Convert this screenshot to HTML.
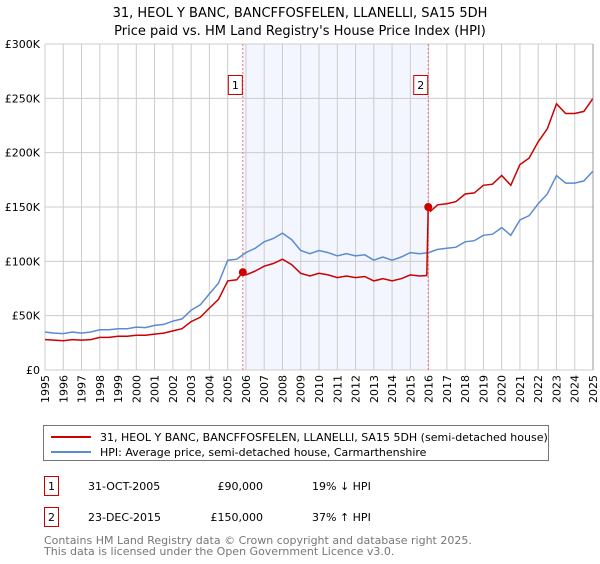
<!DOCTYPE html>
<html><head><meta charset="utf-8"><style>
body{margin:0;background:#fff;font-family:"DejaVu Sans","Liberation Sans",sans-serif;}
svg text{font-family:"DejaVu Sans","Liberation Sans",sans-serif;}
</style></head><body>
<svg id="c" width="600" height="560" xmlns="http://www.w3.org/2000/svg">
<text x="300" y="17" text-anchor="middle" font-size="13">31, HEOL Y BANC, BANCFFOSFELEN, LLANELLI, SA15 5DH</text>
<text x="300" y="35" text-anchor="middle" font-size="13">Price paid vs. HM Land Registry's House Price Index (HPI)</text>
<g id="plot"></g>
<g>
<rect x="43.5" y="425.5" width="505" height="35" fill="#fff" stroke="#777"/>
<line x1="51" y1="437" x2="91" y2="437" stroke="#cc0000" stroke-width="2"/>
<text x="100" y="441" font-size="11">31, HEOL Y BANC, BANCFFOSFELEN, LLANELLI, SA15 5DH (semi-detached house)</text>
<line x1="51" y1="452" x2="91" y2="452" stroke="#5b8bd0" stroke-width="2"/>
<text x="100" y="456" font-size="11">HPI: Average price, semi-detached house, Carmarthenshire</text>
</g>
<g font-size="11">
<rect x="44.5" y="476.5" width="14" height="19" fill="none" stroke="#cc0000"/>
<text x="51.5" y="490" text-anchor="middle">1</text>
<text x="88" y="490">31-OCT-2005</text>
<text x="263" y="490" text-anchor="end">£90,000</text>
<text x="312" y="490">19% ↓ HPI</text>
<rect x="44.5" y="507.5" width="14" height="19" fill="none" stroke="#cc0000"/>
<text x="51.5" y="521" text-anchor="middle">2</text>
<text x="88" y="521">23-DEC-2015</text>
<text x="263" y="521" text-anchor="end">£150,000</text>
<text x="312" y="521">37% ↑ HPI</text>
</g>
<text x="44" y="544" font-size="11" fill="#777">Contains HM Land Registry data © Crown copyright and database right 2025.</text>
<text x="44" y="555" font-size="11" fill="#777">This data is licensed under the Open Government Licence v3.0.</text>
</svg>
<script>
const yTicks=[0,50000,100000,150000,200000,250000,300000];
const yTickLabels=["£0","£50K","£100K","£150K","£200K","£250K","£300K"];
const xYears=[1995,1996,1997,1998,1999,2000,2001,2002,2003,2004,2005,2006,2007,2008,2009,2010,2011,2012,2013,2014,2015,2016,2017,2018,2019,2020,2021,2022,2023,2024,2025];
const hpiDates=[1995,1995.5,1996,1996.5,1997,1997.5,1998,1998.5,1999,1999.5,2000,2000.5,2001,2001.5,2002,2002.5,2003,2003.5,2004,2004.5,2005,2005.5,2006,2006.5,2007,2007.5,2008,2008.5,2009,2009.5,2010,2010.5,2011,2011.5,2012,2012.5,2013,2013.5,2014,2014.5,2015,2015.5,2016,2016.5,2017,2017.5,2018,2018.5,2019,2019.5,2020,2020.5,2021,2021.5,2022,2022.5,2023,2023.5,2024,2024.5,2025];
const hpiValues=[35,34,33.5,35,34,35,37,37,38,38,39.5,39,41,42,45,47,55,60,70,80,101,102,108,112,118,121,126,120,110,107,110,108,105,107,105,106,101,104,101,104,108,107,108,111,112,113,118,119,124,125,131,124,138,142,153,162,179,172,172,174,183];
const propDates=[1995,1995.5,1996,1996.5,1997,1997.5,1998,1998.5,1999,1999.5,2000,2000.5,2001,2001.5,2002,2002.5,2003,2003.5,2004,2004.5,2005,2005.5,2005.83,2006,2006.5,2007,2007.5,2008,2008.5,2009,2009.5,2010,2010.5,2011,2011.5,2012,2012.5,2013,2013.5,2014,2014.5,2015,2015.5,2015.9,2015.98,2016.1,2016.5,2017,2017.5,2018,2018.5,2019,2019.5,2020,2020.5,2021,2021.5,2022,2022.5,2023,2023.5,2024,2024.5,2025];
const propValues=[28,27.5,27,28,27.5,28,30,30,31,31,32,32,33,34,36,38,44.5,48.5,57,65,82,83,90,87.5,91,95.5,98,102,97,89,86.5,89,87.5,85,86.5,85,86,82,84,82,84,87.5,86.5,87,150,146,152,153,155,162,163,170,171,179,170,189,195,210,222,245,236,236,238,250];
const saleDates=[2005.83,2015.98];
const saleValues=[90,150];
const saleLabels=["1","2"];

const X0=45,X1=593,Y0=370,Y1=44;
const xs=d=>X0+(d-1995)/30*(X1-X0);
const ys=v=>Y0-v/300000*(Y0-Y1);
const NS="http://www.w3.org/2000/svg";
const g=document.getElementById('plot');
function mk(t,a){const e=document.createElementNS(NS,t);for(const k in a)e.setAttribute(k,a[k]);g.appendChild(e);return e;}
let r=mk('rect',{x:xs(saleDates[0]),y:Y1,width:xs(saleDates[1])-xs(saleDates[0]),height:Y0-Y1,fill:'#f3f6fe'});


xYears.forEach(y=>{const l=mk('line',{x1:xs(y),x2:xs(y),y1:Y1,y2:Y0,stroke:'#ccc'});


const t=mk('text',{transform:`translate(${xs(y)+4},${Y0+5}) rotate(-90)`,'text-anchor':'end','font-size':'11'});t.textContent=y;

});
yTicks.forEach((v,i)=>{const l=mk('line',{x1:X0,x2:X1,y1:ys(v),y2:ys(v),stroke:'#ccc'});


const t=mk('text',{x:X0-5,y:ys(v)+4,'text-anchor':'end','font-size':'11'});t.textContent=yTickLabels[i];

});
saleDates.forEach((d,i)=>{const l=mk('line',{x1:xs(d),x2:xs(d),y1:Y1,y2:Y0,stroke:'#f07070','stroke-dasharray':'2,2'});


const b=mk('rect',{x:xs(d)-14.5,y:75.5,width:14,height:19,fill:'#fff',stroke:'#cc0000'});


const t=mk('text',{x:xs(d)-7.5,y:89,'text-anchor':'middle','font-size':'11'});t.textContent=saleLabels[i];

});
const pts=(ds,vs)=>ds.map((d,i)=>xs(d).toFixed(1)+','+ys(vs[i]*1000).toFixed(1)).join(' ');
const h=mk('polyline',{points:pts(hpiDates,hpiValues),fill:'none',stroke:'#5b8bd0','stroke-width':1.5});


const p=mk('polyline',{points:pts(propDates,propValues),fill:'none',stroke:'#cc0000','stroke-width':1.5});


saleDates.forEach((d,i)=>{const c=mk('circle',{cx:xs(d),cy:ys(saleValues[i]*1000),r:4,fill:'#cc0000'});

});
const ax=mk('line',{x1:X1,x2:X1,y1:Y1,y2:Y0,stroke:'#999'});


</script>
</body></html>
